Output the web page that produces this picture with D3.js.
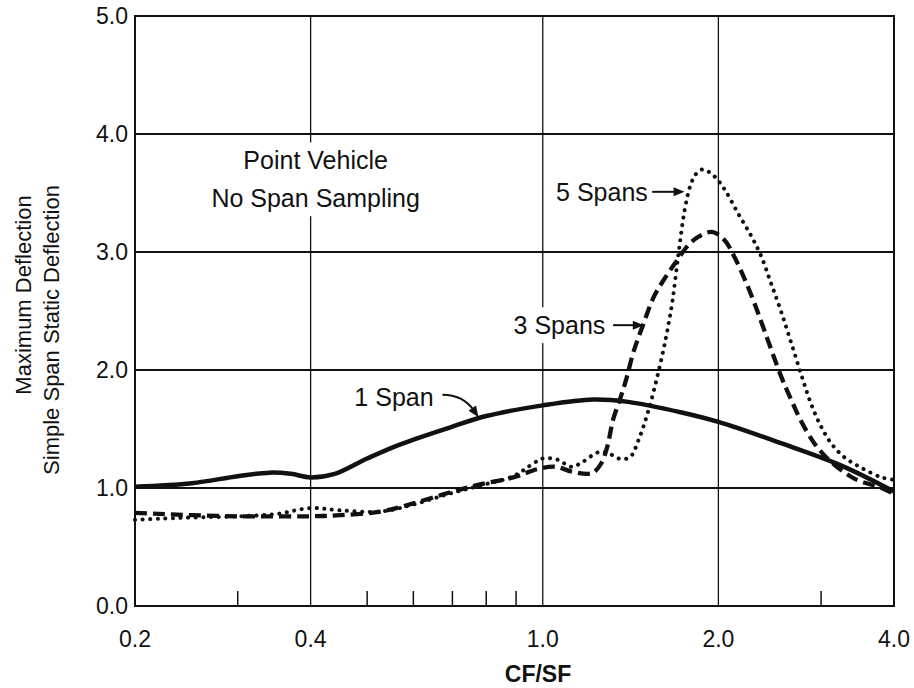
<!DOCTYPE html>
<html>
<head>
<meta charset="utf-8">
<script src="https://cdn.jsdelivr.net/npm/d3@7"></script>
<style>
  body { margin: 0; background: #fff; }
  text { font-family: "Liberation Sans", Arial, Helvetica, sans-serif; fill: #111; }
</style>
</head>
<body>
<div id="chart"></div>
<script>
// Data (CF/SF vs deflection ratio)
const oneSpanX = [0.2, 0.25, 0.3, 0.34, 0.37, 0.4, 0.44, 0.5, 0.57, 0.7, 0.8, 1.0, 1.22, 1.4, 1.73, 2.0, 2.56, 3.25, 4.0];
const oneSpanY = [1.01, 1.04, 1.10, 1.13, 1.12, 1.09, 1.12, 1.25, 1.37, 1.52, 1.61, 1.70, 1.75, 1.73, 1.64, 1.56, 1.38, 1.19, 0.97];

const threeSpanX = [0.2, 0.22, 0.25, 0.3, 0.35, 0.4, 0.45, 0.527, 0.6, 0.69, 0.78, 0.89, 0.98, 1.05, 1.12, 1.19, 1.22, 1.26, 1.29, 1.32, 1.36, 1.39, 1.43, 1.49, 1.55, 1.62, 1.70, 1.77, 1.85, 1.95, 2.05, 2.13, 2.21, 2.30, 2.40, 2.56, 2.67, 2.77, 2.92, 3.09, 3.42, 3.81, 4.0];
const threeSpanY = [0.79, 0.78, 0.77, 0.76, 0.76, 0.76, 0.77, 0.80, 0.87, 0.96, 1.03, 1.09, 1.16, 1.18, 1.14, 1.12, 1.13, 1.21, 1.35, 1.58, 1.77, 1.92, 2.15, 2.40, 2.62, 2.78, 2.93, 3.05, 3.13, 3.17, 3.10, 2.96, 2.79, 2.58, 2.33, 1.95, 1.74, 1.57, 1.38, 1.24, 1.08, 1.00, 0.95];

const fiveSpanX = [0.2, 0.22, 0.25, 0.3, 0.35, 0.4, 0.45, 0.527, 0.6, 0.69, 0.78, 0.89, 0.965, 1.0, 1.06, 1.12, 1.17, 1.24, 1.29, 1.35, 1.41, 1.46, 1.514, 1.576, 1.63, 1.67, 1.71, 1.75, 1.79, 1.83, 1.88, 1.97, 2.05, 2.16, 2.28, 2.37, 2.46, 2.56, 2.67, 2.79, 2.89, 3.00, 3.12, 3.29, 3.52, 3.81, 4.0];
const fiveSpanY = [0.73, 0.74, 0.75, 0.76, 0.78, 0.83, 0.81, 0.80, 0.86, 0.95, 1.02, 1.10, 1.21, 1.25, 1.24, 1.18, 1.22, 1.30, 1.30, 1.25, 1.26, 1.41, 1.64, 1.97, 2.30, 2.60, 3.00, 3.35, 3.56, 3.66, 3.70, 3.64, 3.53, 3.33, 3.13, 2.96, 2.74, 2.50, 2.22, 1.92, 1.70, 1.52, 1.38, 1.26, 1.17, 1.09, 1.07];

const xTickValues = [0.2, 0.4, 1.0, 2.0, 4.0];
const xMinorTicks = [0.3, 0.5, 0.6, 0.7, 0.8, 0.9, 3.0];
const yTickValues = [0, 1, 2, 3, 4, 5];

const W = 914, H = 688;
const margin = {top: 16, right: 20, bottom: 82, left: 135};
const iw = W - margin.left - margin.right;
const ih = H - margin.top - margin.bottom;

const svg = d3.select("#chart").append("svg")
  .attr("width", W).attr("height", H);

const g = svg.append("g")
  .attr("transform", "translate(" + margin.left + "," + margin.top + ")");

const x = d3.scaleLog().domain([0.2, 4.0]).range([0, iw]);
const y = d3.scaleLinear().domain([0, 5]).range([ih, 0]);

// Grid lines
g.selectAll(".hgrid").data([1, 2, 3, 4]).enter().append("line")
  .attr("x1", 0).attr("x2", iw)
  .attr("y1", d => y(d)).attr("y2", d => y(d))
  .attr("stroke", "#111").attr("stroke-width", 1.8);

g.selectAll(".vgrid").data([0.4, 1.0, 2.0]).enter().append("line")
  .attr("y1", 0).attr("y2", ih)
  .attr("x1", d => x(d)).attr("x2", d => x(d))
  .attr("stroke", "#111").attr("stroke-width", 1.3);

// Minor ticks on the bottom axis
g.selectAll(".minor").data(xMinorTicks).enter().append("line")
  .attr("x1", d => x(d)).attr("x2", d => x(d))
  .attr("y1", ih).attr("y2", ih - 15)
  .attr("stroke", "#111").attr("stroke-width", 1.5);

// Frame
g.append("rect").attr("x", 0).attr("y", 0).attr("width", iw).attr("height", ih)
  .attr("fill", "none").attr("stroke", "#111").attr("stroke-width", 2);

// Tick labels
g.selectAll(".ylab").data(yTickValues).enter().append("text")
  .attr("x", -7).attr("y", d => y(d)).attr("dy", "0.36em")
  .attr("text-anchor", "end").style("font-size", "23px")
  .text(d => d.toFixed(1));

g.selectAll(".xlab").data(xTickValues).enter().append("text")
  .attr("x", d => x(d)).attr("y", ih + 41)
  .attr("text-anchor", "middle").style("font-size", "23px")
  .text(d => d.toFixed(1));

// Axis titles
svg.append("text").attr("x", 538).attr("y", 682)
  .attr("text-anchor", "middle").style("font-size", "23px").style("font-weight", "bold")
  .text("CF/SF");

svg.append("text").attr("transform", "translate(31,295) rotate(-90)")
  .attr("text-anchor", "middle").style("font-size", "22px")
  .text("Maximum Deflection");
svg.append("text").attr("transform", "translate(59,330) rotate(-90)")
  .attr("text-anchor", "middle").style("font-size", "22px")
  .text("Simple Span Static Deflection");

// Text with white backing (covers grid lines like the original)
function boxedText(lines, cx, baselines, anchor) {
  const grp = g.append("g");
  const bg = grp.append("rect").attr("fill", "#fff");
  const texts = lines.map((t, i) => grp.append("text")
    .attr("x", cx).attr("y", baselines[i])
    .attr("text-anchor", anchor).style("font-size", "25px")
    .text(t));
  const boxes = texts.map(t => t.node().getBBox());
  const x0 = d3.min(boxes, b => b.x) - 4, x1 = d3.max(boxes, b => b.x + b.width) + 4;
  const y0 = d3.min(boxes, b => b.y) - 4, y1 = d3.max(boxes, b => b.y + b.height) + 4;
  bg.attr("x", x0).attr("y", y0).attr("width", x1 - x0).attr("height", y1 - y0);
  return grp;
}

boxedText(["Point Vehicle", "No Span Sampling"], x(0.408), [y(3.70), y(3.38)], "middle");

// Curves
const line = d3.line()
  .x(d => x(d[0])).y(d => y(d[1]))
  .curve(d3.curveCatmullRom.alpha(0.5));

const series = [
  {name: "1 Span", xs: oneSpanX, ys: oneSpanY, width: 4.5, dash: null, cap: "butt"},
  {name: "3 Spans", xs: threeSpanX, ys: threeSpanY, width: 4.3, dash: "12,6", cap: "butt"},
  {name: "5 Spans", xs: fiveSpanX, ys: fiveSpanY, width: 4, dash: "0.1,7.5", cap: "round"}
];

series.forEach(s => {
  g.append("path")
    .datum(d3.zip(s.xs, s.ys))
    .attr("d", line)
    .attr("fill", "none")
    .attr("stroke", "#111")
    .attr("stroke-width", s.width)
    .attr("stroke-linecap", s.cap)
    .attr("stroke-dasharray", s.dash);
});

// Annotation labels with arrows
function arrowHead(tx, ty, angle) {
  const len = 11, half = 4.5;
  const bx = tx - len * Math.cos(angle), by = ty - len * Math.sin(angle);
  const px = -Math.sin(angle) * half, py = Math.cos(angle) * half;
  g.append("path")
    .attr("d", "M" + tx + "," + ty + "L" + (bx + px) + "," + (by + py) + "L" + (bx - px) + "," + (by - py) + "Z")
    .attr("fill", "#111");
}

function straightLabel(label, textEndX, yv, arrowFrom, arrowTo, boxed) {
  if (boxed) {
    boxedText([label], x(textEndX), [y(yv) + 9], "end");
  } else {
    g.append("text").attr("x", x(textEndX)).attr("y", y(yv) + 9)
      .attr("text-anchor", "end").style("font-size", "25px").text(label);
  }
  g.append("line")
    .attr("x1", x(arrowFrom)).attr("x2", x(arrowTo) - 8)
    .attr("y1", y(yv)).attr("y2", y(yv))
    .attr("stroke", "#111").attr("stroke-width", 2);
  arrowHead(x(arrowTo), y(yv), 0);
}

straightLabel("5 Spans", 1.514, 3.51, 1.54, 1.75, false);
straightLabel("3 Spans", 1.28, 2.38, 1.32, 1.49, true);

// 1 Span: curved arrow
g.append("text").attr("x", x(0.65)).attr("y", y(1.77) + 9)
  .attr("text-anchor", "end").style("font-size", "25px").text("1 Span");
const s0 = [x(0.673), y(1.79)], c0 = [x(0.73), y(1.79)], tip = [x(0.776), y(1.60)];
const ang = Math.atan2(tip[1] - c0[1], tip[0] - c0[0]);
g.append("path")
  .attr("d", "M" + s0 + "Q" + c0 + " " + (tip[0] - 8 * Math.cos(ang)) + "," + (tip[1] - 8 * Math.sin(ang)))
  .attr("fill", "none").attr("stroke", "#111").attr("stroke-width", 2);
arrowHead(tip[0], tip[1], ang);
</script>
</body>
</html>
